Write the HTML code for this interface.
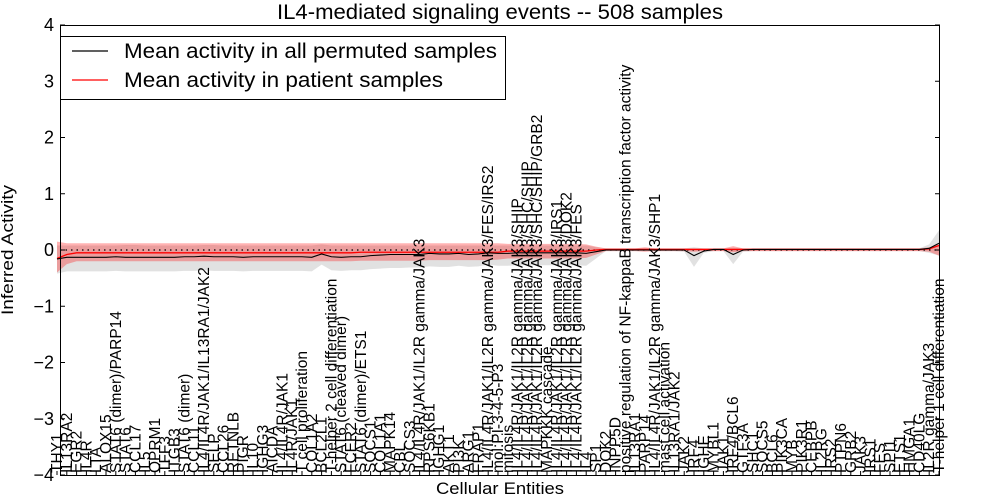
<!DOCTYPE html>
<html><head><meta charset="utf-8"><style>
body{margin:0;background:#fff;}
svg{display:block;font-family:"Liberation Sans","DejaVu Sans",sans-serif;}
</style></head><body>
<svg id="chart" width="1000" height="500">
<text x="500" y="19" font-size="21" text-anchor="middle" textLength="446" lengthAdjust="spacingAndGlyphs">IL4-mediated signaling events -- 508 samples</text>
<text x="500" y="494" font-size="17" text-anchor="middle" textLength="128" lengthAdjust="spacingAndGlyphs">Cellular Entities</text>
<text x="13" y="250" font-size="17" text-anchor="middle" transform="rotate(-90 13 250)" textLength="130" lengthAdjust="spacingAndGlyphs">Inferred Activity</text>
<g id="bands"></g><g id="lines"></g><g id="axes"></g><g id="xlabels"></g>
<g>
<rect x="60.5" y="36.5" width="445" height="63" fill="#fff" stroke="#000" stroke-width="1"/>
<line x1="72" y1="51" x2="108" y2="51" stroke="#000" stroke-width="1.2"/>
<text x="124" y="58" font-size="21" textLength="373" lengthAdjust="spacingAndGlyphs">Mean activity in all permuted samples</text>
<line x1="72" y1="80" x2="108" y2="80" stroke="#f00" stroke-width="1.2"/>
<text x="124" y="87" font-size="21" textLength="319" lengthAdjust="spacingAndGlyphs">Mean activity in patient samples</text>
</g>
</svg>
<script>
const labels=["THY1","IL13RA2","EGR2","IL4R","LTA","ALOX15","STAT6 (dimer)/PARP14","STAT6","CCL17","IL5","OPRM1","TFF3","ITGB3","STAT6 (dimer)","CCL11","IL4/IL4R/JAK1/IL13RA1/JAK2","SELP","CCL26","RETNLB","PIGR","IL10","IGHG3","AICDA","IL4/IL4R/JAK1","IL4R/JAK1","T cell proliferation","COL1A2","BCL2L1","T-helper 2 cell differentiation","STAT6 (cleaved dimer)","FCER2","STAT6 (dimer)/ETS1","SOCS1","COL1A1","MAPK14","CBL","SOCS3","IL4/IL4R/JAK1/IL2R gamma/JAK3","RPS6KB1","IGHG1","AKT1","PI3K","ARG1","FRAP1","IL4/IL4R/JAK1/IL2R gamma/JAK3/FES/IRS2","mol:PI-3-4-5-P3","mitosis","IL4/IL4R/JAK1/IL2R gamma/JAK3/SHIP","IL4/IL4R/JAK1/IL2R gamma/JAK3/SHC/SHIP","IL4/IL4R/JAK1/IL2R gamma/JAK3/SHC/SHIP/GRB2","MAPKKK cascade","IL4/IL4R/JAK1/IL2R gamma/JAK3/IRS1","IL4/IL4R/JAK1/IL2R gamma/JAK3/DOK2","IL4/IL4R/JAK1/IL2R gamma/JAK3/FES","IL4","SP1","DOK2","INPP5D","positive regulation of NF-kappaB transcription factor activity","IL13RA1","PARP14","IL4/IL4R/JAK1/IL2R gamma/JAK3/SHP1","mast cell activation","IL13RA1/JAK2","JAK2","IRF4","IGHE","MYBL1","JAK1","IRF4/BCL6","GTF3A","SHC1","SOCS5","BCL6","PIK3CA","MYB","PIK3R1","CEBPB","IL2RG","IRS2","PTPN6","GRB2","JAK3","IRS1","FES","SPI1","ETS1","HMGA1","CD40LG","IL2R gamma/JAK3","T-helper 1 cell differentiation"];
const permutedMean=[-0.16,-0.13,-0.13,-0.13,-0.13,-0.13,-0.12,-0.13,-0.13,-0.13,
-0.13,-0.13,-0.13,-0.12,-0.12,-0.11,-0.12,-0.12,-0.12,-0.13,
-0.12,-0.12,-0.12,-0.12,-0.12,-0.12,-0.13,-0.07,-0.12,-0.13,
-0.12,-0.12,-0.1,-0.09,-0.08,-0.08,-0.08,-0.08,-0.06,-0.07,
-0.07,-0.06,-0.08,-0.07,-0.05,-0.06,-0.06,-0.05,-0.05,-0.05,
-0.05,-0.05,-0.05,-0.05,-0.06,-0.03,0.0,0.0,0.0,0.0,
0.0,0.0,0.0,0.0,0.0,-0.1,-0.02,0.01,0.01,-0.08,
0.0,0.01,0.01,0.01,0.01,0.01,0.01,0.01,0.01,0.01,
0.01,0.01,0.01,0.01,0.01,0.01,0.01,0.01,0.01,0.03,0.12];
const permutedHi=[0.08,0.08,0.08,0.08,0.08,0.08,0.08,0.09,0.09,0.08,
0.08,0.08,0.08,0.08,0.08,0.09,0.09,0.08,0.08,0.08,
0.08,0.08,0.08,0.08,0.08,0.08,0.08,0.1,0.08,0.08,
0.08,0.08,0.08,0.08,0.08,0.08,0.08,0.08,0.08,0.08,
0.08,0.08,0.08,0.08,0.08,0.08,0.08,0.08,0.08,0.08,
0.08,0.08,0.08,0.08,0.08,0.05,0.03,0.03,0.03,0.03,
0.03,0.03,0.03,0.03,0.03,0.05,0.03,0.03,0.03,0.04,
0.03,0.03,0.03,0.03,0.03,0.03,0.03,0.03,0.03,0.03,
0.03,0.03,0.03,0.03,0.03,0.03,0.03,0.03,0.03,0.1,0.35];
const permutedLo=[-0.42,-0.38,-0.38,-0.38,-0.38,-0.38,-0.37,-0.38,-0.38,-0.38,
-0.38,-0.38,-0.38,-0.37,-0.37,-0.36,-0.37,-0.37,-0.37,-0.38,
-0.37,-0.37,-0.37,-0.37,-0.37,-0.37,-0.38,-0.26,-0.36,-0.37,
-0.36,-0.36,-0.34,-0.33,-0.32,-0.32,-0.31,-0.31,-0.29,-0.3,
-0.3,-0.28,-0.3,-0.29,-0.26,-0.28,-0.28,-0.27,-0.27,-0.27,
-0.27,-0.27,-0.27,-0.27,-0.28,-0.15,-0.02,-0.02,-0.02,-0.02,
-0.02,-0.02,-0.02,-0.02,-0.03,-0.3,-0.05,-0.02,-0.02,-0.25,
-0.03,-0.02,-0.02,-0.02,-0.02,-0.02,-0.02,-0.02,-0.02,-0.02,
-0.02,-0.02,-0.02,-0.02,-0.02,-0.02,-0.02,-0.02,-0.02,-0.05,-0.1];
const patientMean=[-0.15,-0.08,-0.05,-0.05,-0.05,-0.05,-0.05,-0.05,-0.05,-0.05,
-0.05,-0.05,-0.05,-0.05,-0.05,-0.05,-0.05,-0.05,-0.05,-0.05,
-0.05,-0.05,-0.05,-0.05,-0.05,-0.05,-0.05,-0.05,-0.05,-0.05,
-0.05,-0.04,-0.04,-0.04,-0.04,-0.04,-0.04,-0.04,-0.04,-0.04,
-0.04,-0.04,-0.04,-0.04,-0.04,-0.04,-0.02,-0.02,-0.02,-0.02,
-0.02,-0.02,-0.02,-0.02,-0.02,0.0,0.01,0.01,0.01,0.01,
0.01,0.01,0.01,0.01,0.01,0.01,0.01,0.01,0.01,0.01,
0.01,0.01,0.01,0.01,0.01,0.01,0.01,0.01,0.01,0.01,
0.01,0.01,0.01,0.01,0.01,0.01,0.01,0.01,0.01,0.02,0.08];
const patientHi=[0.15,0.12,0.12,0.12,0.12,0.12,0.12,0.12,0.12,0.12,
0.12,0.12,0.12,0.12,0.12,0.12,0.12,0.12,0.12,0.12,
0.12,0.12,0.12,0.12,0.12,0.12,0.12,0.12,0.12,0.12,
0.12,0.12,0.12,0.12,0.12,0.12,0.12,0.12,0.12,0.12,
0.12,0.12,0.12,0.12,0.12,0.12,0.11,0.11,0.11,0.11,
0.11,0.11,0.11,0.11,0.1,0.06,0.03,0.03,0.03,0.03,
0.05,0.03,0.03,0.03,0.03,0.03,0.03,0.03,0.03,0.07,
0.03,0.03,0.03,0.03,0.03,0.03,0.03,0.03,0.03,0.03,
0.03,0.03,0.03,0.03,0.03,0.03,0.03,0.03,0.03,0.05,0.1];
const patientLo=[-0.4,-0.25,-0.2,-0.2,-0.2,-0.2,-0.2,-0.2,-0.2,-0.2,
-0.2,-0.2,-0.2,-0.2,-0.2,-0.2,-0.2,-0.2,-0.2,-0.2,
-0.2,-0.2,-0.2,-0.2,-0.2,-0.2,-0.2,-0.2,-0.2,-0.2,
-0.2,-0.19,-0.19,-0.19,-0.19,-0.19,-0.19,-0.19,-0.18,-0.18,
-0.18,-0.18,-0.18,-0.18,-0.18,-0.17,-0.15,-0.15,-0.15,-0.15,
-0.15,-0.15,-0.15,-0.15,-0.14,-0.08,-0.02,-0.02,-0.02,-0.02,
-0.03,-0.02,-0.02,-0.02,-0.02,-0.03,-0.02,-0.02,-0.02,-0.04,
-0.02,-0.02,-0.02,-0.02,-0.02,-0.02,-0.02,-0.02,-0.02,-0.02,
-0.02,-0.02,-0.02,-0.02,-0.02,-0.02,-0.02,-0.02,-0.02,-0.03,-0.1];
const yTicks=[4,3,2,1,0,-1,-2,-3,-4];
const yTickLabels=["4","3","2","1","0","\u22121","\u22122","\u22123","\u22124"];

const NS="http://www.w3.org/2000/svg";
const L=60,R=940,T=25,B=475;
const n=labels.length;
const x=i=>57+i*(939-57)/(n-1);
const y=v=>T+(4-v)*(B-T)/8;
function mk(tag,attrs,parent){const e=document.createElementNS(NS,tag);for(const k in attrs)e.setAttribute(k,attrs[k]);parent.appendChild(e);return e;}
function band(lo,hi){let d="M"+x(0)+","+y(hi[0]);for(let i=1;i<n;i++)d+="L"+x(i)+","+y(hi[i]);for(let i=n-1;i>=0;i--)d+="L"+x(i)+","+y(lo[i]);return d+"Z";}
function line(v){let d="";for(let i=0;i<n;i++)d+=(i?"L":"M")+x(i)+","+y(v[i]);return d;}
const bands=document.getElementById('bands'),lines=document.getElementById('lines'),axes=document.getElementById('axes'),xl=document.getElementById('xlabels');
const gb=mk('path',{d:band(permutedLo,permutedHi),fill:"#c8c8c8","fill-opacity":"0.55",stroke:"none"},bands);


const rb=mk('path',{d:band(patientLo,patientHi),fill:"#f00","fill-opacity":"0.3",stroke:"none"},bands);


const zl=mk('line',{x1:L,x2:R,y1:y(0),y2:y(0),stroke:"#000","stroke-dasharray":"1.5,4","stroke-width":1.2},lines);


const pl=mk('path',{d:line(patientMean),fill:"none",stroke:"#f00","stroke-width":1.3},lines);


const bl=mk('path',{d:line(permutedMean),fill:"none",stroke:"#000","stroke-width":1.1},lines);


const fr=mk('rect',{x:L+0.5,y:T+0.5,width:R-L-1,height:B-T,fill:"none",stroke:"#000","stroke-width":1},axes);


yTicks.forEach((v,i)=>{
  const yy=y(v);
  mk('line',{x1:L,x2:L+5,y1:yy,y2:yy,stroke:"#000"},axes);
  mk('line',{x1:R-5,x2:R,y1:yy,y2:yy,stroke:"#000"},axes);
  const t=mk('text',{x:L-6,y:yy+6,"font-size":18,"text-anchor":"end"},axes);
  t.textContent=yTickLabels[i];
  
  
});
labels.forEach((s,i)=>{
  const xx=x(i);
  mk('line',{x1:xx,x2:xx,y1:B,y2:B-4,stroke:"#000"},axes);
  const t=mk('text',{x:xx+5,y:B-2,"font-size":15.5,"text-anchor":"start",transform:"rotate(-90 "+(xx+5)+" "+(B-2)+")"},xl);
  t.textContent=s;
  
  
});
</script>
</body></html>
